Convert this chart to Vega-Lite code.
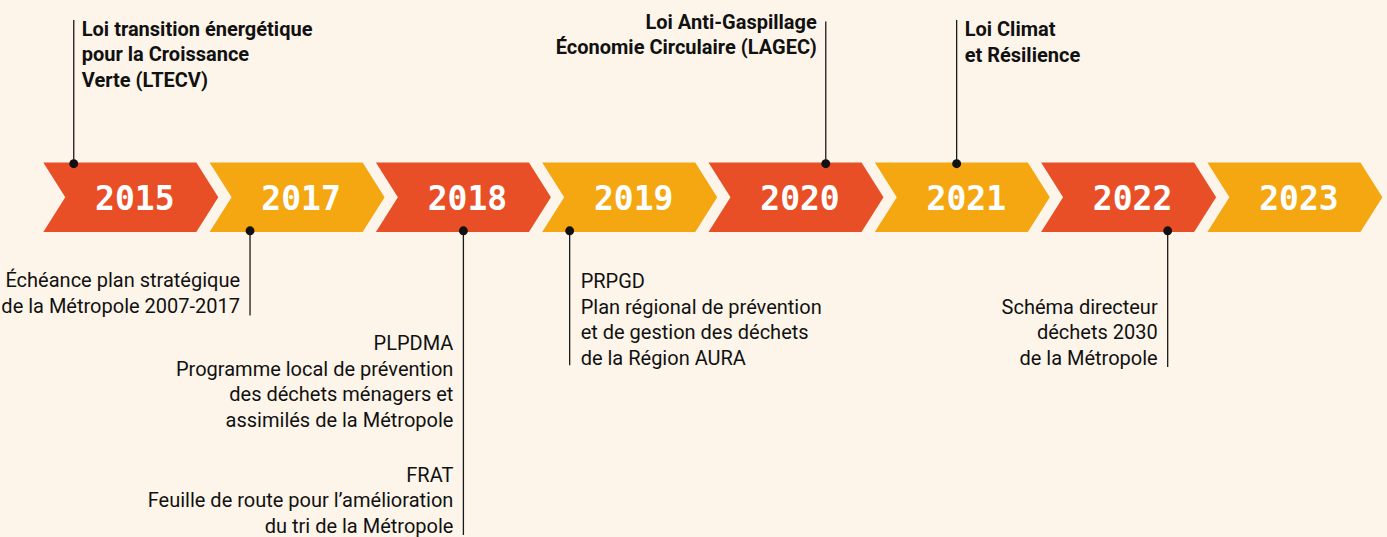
{
  "$schema": "https://vega.github.io/schema/vega-lite/v6.json",
  "width": 1387,
  "height": 537,
  "autosize": {"type": "fit", "contains": "padding"},
  "padding": 0,
  "background": "#fdf5ea",
  "config": {"view": {"stroke": null}},
  "datasets": {
    "years": [
      {"year": "2015", "slot": 0},
      {"year": "2017", "slot": 1},
      {"year": "2018", "slot": 2},
      {"year": "2019", "slot": 3},
      {"year": "2020", "slot": 4},
      {"year": "2021", "slot": 5},
      {"year": "2022", "slot": 6},
      {"year": "2023", "slot": 7}
    ],
    "events": [
      {"id": "LTECV", "year": "2015", "t": -0.343, "y_dot": 33.7, "y_end": 178},
      {"id": "Plan stratégique", "year": "2017", "t": 0.717, "y_dot": -33.7, "y_end": -118.7},
      {"id": "PLPDMA", "year": "2018", "t": 2.0, "y_dot": -33.7, "y_end": -339},
      {"id": "PRPGD", "year": "2019", "t": 2.639, "y_dot": -33.7, "y_end": -168.7},
      {"id": "LAGEC", "year": "2020", "t": 4.179, "y_dot": 33.7, "y_end": 176.3},
      {"id": "Climat", "year": "2021", "t": 4.966, "y_dot": 33.7, "y_end": 178},
      {"id": "Schéma", "year": "2022", "t": 6.235, "y_dot": -33.7, "y_end": -170.3}
    ],
    "labels": [
      {"id": "LTECV", "t": -0.343, "y": 162.3, "label": ["Loi transition énergétique", "pour la Croissance", "Verte (LTECV)"]},
      {"id": "LAGEC", "t": 4.179, "y": 168.7, "label": ["Loi Anti-Gaspillage", "Économie Circulaire (LAGEC)"]},
      {"id": "Climat", "t": 4.966, "y": 162, "label": ["Loi Climat", "et Résilience"]},
      {"id": "Plan stratégique", "t": 0.717, "y": -90.3, "label": ["Échéance plan stratégique", "de la Métropole 2007-2017"]},
      {"id": "PLPDMA", "t": 2.0, "y": -153.7, "label": ["PLPDMA", "Programme local de prévention", "des déchets ménagers et", "assimilés de la Métropole"]},
      {"id": "FRAT", "t": 2.0, "y": -285.3, "label": ["FRAT", "Feuille de route pour l’amélioration", "du tri de la Métropole"]},
      {"id": "PRPGD", "t": 2.639, "y": -91.3, "label": ["PRPGD", "Plan régional de prévention", "et de gestion des déchets", "de la Région AURA"]},
      {"id": "Schéma", "t": 6.235, "y": -117, "label": ["Schéma directeur", "déchets 2030", "de la Métropole"]}
    ]
  },
  "layer": [
    {
      "data": {"name": "years"},
      "mark": {
        "type": "point",
        "filled": true,
        "opacity": 1,
        "strokeWidth": 0,
        "size": 30625,
        "shape": "M-1,-0.397L0.749,-0.397L1,0L0.749,0.397L-1,0.397L-0.749,0Z"
      },
      "encoding": {
        "x": {"field": "slot", "type": "quantitative", "scale": {"domain": [-0.7865, 7.5538], "nice": false, "zero": false}, "axis": null},
        "y": {"datum": 0, "type": "quantitative", "scale": {"domain": [-339, 198], "nice": false, "zero": false}, "axis": null},
        "color": {
          "field": "year",
          "type": "nominal",
          "scale": {
            "domain": ["2015", "2017", "2018", "2019", "2020", "2021", "2022", "2023"],
            "range": ["#e94f27", "#f5a712", "#e94f27", "#f5a712", "#e94f27", "#f5a712", "#e94f27", "#f5a712"]
          },
          "legend": null
        }
      }
    },
    {
      "data": {"name": "years"},
      "mark": {"type": "text", "font": "DejaVu Sans Mono", "fontWeight": "bold", "fontSize": 33, "letterSpacing": -2, "color": "#ffffff", "align": "center", "baseline": "alphabetic", "dx": 4},
      "encoding": {
        "x": {"field": "slot", "type": "quantitative"},
        "y": {"datum": -12.5, "type": "quantitative"},
        "text": {"field": "year", "type": "nominal"}
      }
    },
    {
      "data": {"name": "events"},
      "mark": {"type": "rule", "color": "#1a1a1a", "strokeWidth": 1.3},
      "encoding": {
        "x": {"field": "t", "type": "quantitative"},
        "y": {"field": "y_dot", "type": "quantitative"},
        "y2": {"field": "y_end"}
      }
    },
    {
      "data": {"name": "events"},
      "mark": {"type": "point", "shape": "circle", "filled": true, "opacity": 1, "color": "#111111", "size": 80},
      "encoding": {
        "x": {"field": "t", "type": "quantitative"},
        "y": {"field": "y_dot", "type": "quantitative"}
      }
    },
    {
      "data": {"name": "labels"},
      "transform": [{"filter": {"field": "id", "oneOf": ["LTECV", "Climat"]}}],
      "mark": {"type": "text", "font": "Roboto", "fontWeight": "bold", "fontSize": 20, "lineHeight": 25.8, "color": "#111111", "align": "left", "baseline": "alphabetic", "dx": 8},
      "encoding": {
        "x": {"field": "t", "type": "quantitative"},
        "y": {"field": "y", "type": "quantitative"},
        "text": {"field": "label", "type": "nominal"}
      }
    },
    {
      "data": {"name": "labels"},
      "transform": [{"filter": {"field": "id", "oneOf": ["LAGEC"]}}],
      "mark": {"type": "text", "font": "Roboto", "fontWeight": "bold", "fontSize": 20, "lineHeight": 25, "color": "#111111", "align": "right", "baseline": "alphabetic", "dx": -9},
      "encoding": {
        "x": {"field": "t", "type": "quantitative"},
        "y": {"field": "y", "type": "quantitative"},
        "text": {"field": "label", "type": "nominal"}
      }
    },
    {
      "data": {"name": "labels"},
      "transform": [{"filter": {"field": "id", "oneOf": ["Plan stratégique", "PLPDMA", "FRAT", "Schéma"]}}],
      "mark": {"type": "text", "font": "Roboto", "fontSize": 20, "lineHeight": 25.5, "color": "#111111", "align": "right", "baseline": "alphabetic", "dx": -10},
      "encoding": {
        "x": {"field": "t", "type": "quantitative"},
        "y": {"field": "y", "type": "quantitative"},
        "text": {"field": "label", "type": "nominal"}
      }
    },
    {
      "data": {"name": "labels"},
      "transform": [{"filter": {"field": "id", "oneOf": ["PRPGD"]}}],
      "mark": {"type": "text", "font": "Roboto", "fontSize": 20, "lineHeight": 25.5, "color": "#111111", "align": "left", "baseline": "alphabetic", "dx": 11},
      "encoding": {
        "x": {"field": "t", "type": "quantitative"},
        "y": {"field": "y", "type": "quantitative"},
        "text": {"field": "label", "type": "nominal"}
      }
    }
  ]
}
